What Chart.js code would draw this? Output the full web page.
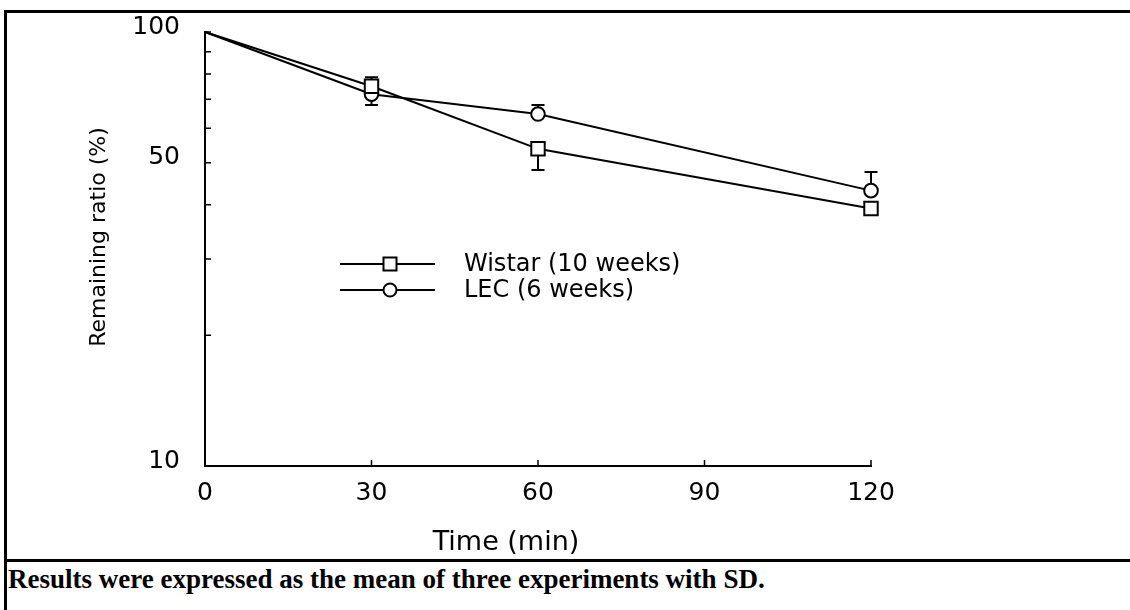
<!DOCTYPE html>
<html>
<head>
<meta charset="utf-8">
<script src="https://cdn.jsdelivr.net/npm/chart.js@4.4.1/dist/chart.umd.min.js"></script>
<style>
  html, body { margin: 0; padding: 0; background: #fff; }
  #page { position: relative; width: 1130px; height: 610px; overflow: hidden; }
  #chart-box { position: absolute; left: 0; top: 0; width: 1130px; height: 558px; }
  .rule { position: absolute; background: #000; }
  #caption {
    position: absolute; left: 8px; top: 564px;
    font: bold 27px "Liberation Serif", "Times New Roman", serif;
    line-height: 30px; white-space: nowrap; color: #000;
  }
</style>
</head>
<body>
<div id="page">
  <div id="chart-box"><canvas id="chart"></canvas></div>
  <div class="rule" style="left:4px; top:10px; width:1126px; height:3px;"></div>
  <div class="rule" style="left:4px; top:10px; width:3px; height:600px;"></div>
  <div class="rule" style="left:4px; top:559px; width:1126px; height:3px;"></div>
  <div id="caption">Results were expressed as the mean of three experiments with SD.</div>
</div>
<script>
// values
const timePoints = [0, 30, 60, 120];
const wistar = [100, 75.0, 53.8, 39.2];
const lec = [100, 71.9, 64.7, 43.1];
// SD; the sign tells on which side of the mean the bar is drawn
const wistarSD = [null, 3.7, -5.7, null];
const lecSD = [null, -4.0, 3.2, 4.5];

const xTicks = [0, 30, 60, 90, 120];
const yTicks = [10, 20, 30, 40, 50, 60, 70, 80, 90, 100];
const yLabels = [10, 50, 100];

const seriesNames = ["Wistar (10 weeks)", "LEC (6 weeks)"];

Chart.defaults.font.family = "'DejaVu Sans', sans-serif";
Chart.defaults.color = "#000";

function drawMarker(ctx, style, x, y) {
  ctx.save();
  ctx.fillStyle = "#fff";
  ctx.strokeStyle = "#000";
  ctx.lineWidth = 2;
  ctx.beginPath();
  if (style === "rect") {
    ctx.rect(x - 6.5, y - 6.5, 13, 13);
  } else {
    ctx.arc(x, y, 6.5, 0, Math.PI * 2);
  }
  ctx.fill();
  ctx.stroke();
  ctx.restore();
}

const figurePlugin = {
  id: "figure",
  beforeDatasetsDraw(chart) {
    // one-sided error bars, under the markers
    const ctx = chart.ctx;
    const x = chart.scales.x;
    const y = chart.scales.y;
    [[wistar, wistarSD], [lec, lecSD]].forEach(([vals, sds]) => {
      sds.forEach((sd, i) => {
        if (sd === null) return;
        const px = x.getPixelForValue(timePoints[i]);
        const p0 = y.getPixelForValue(vals[i]);
        const p1 = y.getPixelForValue(vals[i] + sd);
        ctx.save();
        ctx.strokeStyle = "#000";
        ctx.lineWidth = 2;
        ctx.beginPath();
        ctx.moveTo(px, p0);
        ctx.lineTo(px, p1);
        ctx.moveTo(px - 6.5, p1);
        ctx.lineTo(px + 6.5, p1);
        ctx.stroke();
        ctx.restore();
      });
    });
  },
  afterDraw(chart) {
    const ctx = chart.ctx;
    const area = chart.chartArea;
    const x = chart.scales.x;
    const y = chart.scales.y;

    // inward tick marks
    ctx.save();
    ctx.strokeStyle = "#000";
    ctx.lineWidth = 1.5;
    ctx.beginPath();
    yTicks.forEach((v) => {
      const py = y.getPixelForValue(v);
      ctx.moveTo(area.left, py);
      ctx.lineTo(area.left + 6, py);
    });
    xTicks.forEach((v) => {
      const px = x.getPixelForValue(v);
      ctx.moveTo(px, area.bottom);
      ctx.lineTo(px, area.bottom - 6);
    });
    ctx.stroke();
    ctx.restore();

    // legend inside the plot
    const styles = ["rect", "circle"];
    ctx.save();
    ctx.font = "24px 'DejaVu Sans', sans-serif";
    ctx.textBaseline = "middle";
    ctx.fillStyle = "#000";
    seriesNames.forEach((name, i) => {
      const ly = area.top + 232 + i * 26;
      ctx.strokeStyle = "#000";
      ctx.lineWidth = 2;
      ctx.beginPath();
      ctx.moveTo(area.left + 135, ly);
      ctx.lineTo(area.left + 230, ly);
      ctx.stroke();
      drawMarker(ctx, styles[i], area.left + 185, ly);
      ctx.fillText(name, area.left + 259, ly + 1);
    });
    ctx.restore();

    // axis titles
    ctx.save();
    ctx.fillStyle = "#000";
    ctx.textAlign = "center";
    ctx.textBaseline = "middle";
    ctx.font = "27px 'DejaVu Sans', sans-serif";
    ctx.fillText("Time (min)", area.left + 301, area.bottom + 77);
    ctx.translate(area.left - 106, area.top + 205);
    ctx.rotate(-Math.PI / 2);
    ctx.font = "22px 'DejaVu Sans', sans-serif";
    ctx.fillText("Remaining ratio (%)", 0, 0);
    ctx.restore();
  },
};

const pointRadius = (size) => (c) => (c.dataIndex === 0 ? 0 : size);

new Chart(document.getElementById("chart"), {
  type: "line",
  data: {
    datasets: [
      {
        label: seriesNames[0],
        data: timePoints.map((t, i) => ({ x: t, y: wistar[i] })),
        borderColor: "#000",
        borderWidth: 2,
        pointStyle: "rect",
        pointRadius: pointRadius(9.5),
        pointBackgroundColor: "#fff",
        pointBorderColor: "#000",
        pointBorderWidth: 2,
        tension: 0,
        clip: false,
      },
      {
        label: seriesNames[1],
        data: timePoints.map((t, i) => ({ x: t, y: lec[i] })),
        borderColor: "#000",
        borderWidth: 2,
        pointStyle: "circle",
        pointRadius: pointRadius(6.8),
        pointBackgroundColor: "#fff",
        pointBorderColor: "#000",
        pointBorderWidth: 2,
        tension: 0,
        clip: false,
      },
    ],
  },
  options: {
    responsive: true,
    maintainAspectRatio: false,
    animation: false,
    layout: { padding: { left: 0, top: 30, right: 259, bottom: 0 } },
    plugins: {
      legend: { display: false },
      tooltip: { enabled: false },
    },
    scales: {
      x: {
        type: "linear",
        min: 0,
        max: 120,
        afterBuildTicks: (scale) => {
          scale.ticks = xTicks.map((v) => ({ value: v }));
        },
        afterFit: (scale) => {
          scale.height = 92;
        },
        grid: { display: false },
        border: { color: "#000", width: 2 },
        ticks: {
          padding: 4,
          maxRotation: 0,
          font: { size: 25 },
          color: "#000",
        },
      },
      y: {
        type: "logarithmic",
        min: 10,
        max: 100,
        afterBuildTicks: (scale) => {
          scale.ticks = yTicks.map((v) => ({ value: v }));
        },
        afterFit: (scale) => {
          scale.width = 205;
        },
        grid: { display: false },
        border: { color: "#000", width: 2 },
        ticks: {
          padding: 17,
          labelOffset: -5,
          font: { size: 25 },
          color: "#000",
          autoSkip: false,
          callback: (v) => (yLabels.includes(v) ? String(v) : ""),
        },
      },
    },
  },
  plugins: [figurePlugin],
});
</script>
</body>
</html>
